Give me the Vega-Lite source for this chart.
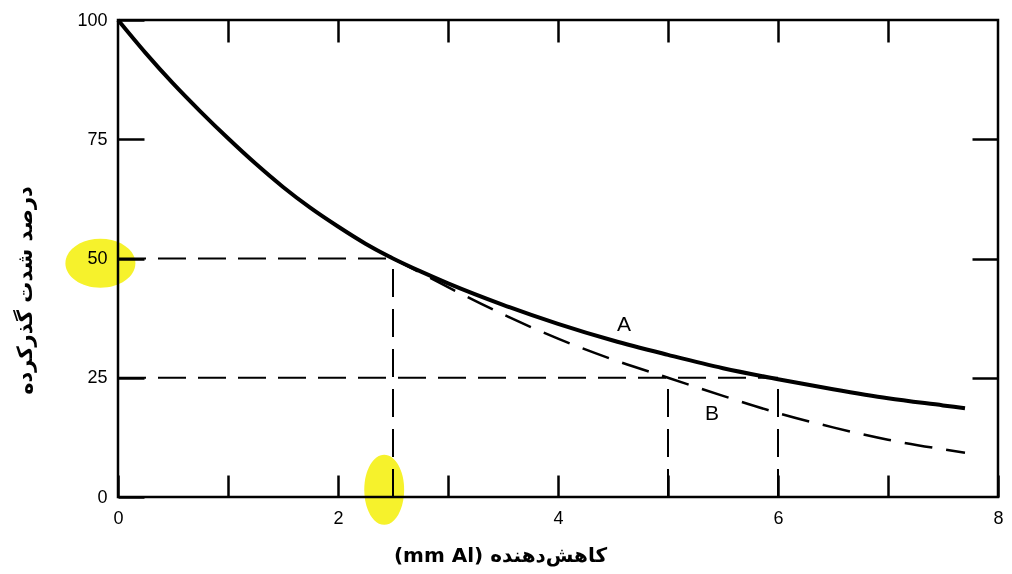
{
  "$schema": "https://vega.github.io/schema/vega-lite/v6.json",
  "width": 880,
  "height": 477,
  "autosize": {"type": "none"},
  "padding": {"left": 118, "top": 20, "right": 14, "bottom": 77},
  "background": "white",
  "config": {
    "view": {"stroke": "black", "strokeWidth": 2.5},
    "axis": {
      "labelFont": "Liberation Sans",
      "labelFontSize": 18,
      "labelColor": "black",
      "tickColor": "black",
      "tickWidth": 2.5,
      "domain": false,
      "grid": false,
      "titleColor": "black",
      "labelFlush": false,
      "zindex": 1
    }
  },
  "datasets": {
    "curveA": [
      {"x": 0, "y": 100}, {"x": 0.25, "y": 93.1}, {"x": 0.5, "y": 86.7}, {"x": 0.75, "y": 80.8},
      {"x": 1, "y": 75.2}, {"x": 1.25, "y": 69.9}, {"x": 1.5, "y": 65}, {"x": 1.75, "y": 60.6},
      {"x": 2, "y": 56.7}, {"x": 2.25, "y": 53.1}, {"x": 2.5, "y": 50}, {"x": 2.75, "y": 47.3},
      {"x": 3, "y": 44.8}, {"x": 3.5, "y": 40.3}, {"x": 4, "y": 36.3}, {"x": 4.5, "y": 32.8},
      {"x": 5, "y": 29.8}, {"x": 5.5, "y": 27}, {"x": 6, "y": 24.7}, {"x": 6.5, "y": 22.6},
      {"x": 7, "y": 20.7}, {"x": 7.5, "y": 19.2}, {"x": 7.7, "y": 18.6}
    ],
    "curveB": [
      {"x": 2.5, "y": 50}, {"x": 2.75, "y": 47}, {"x": 3, "y": 44}, {"x": 3.5, "y": 38.3},
      {"x": 4, "y": 33.2}, {"x": 4.5, "y": 28.8}, {"x": 5, "y": 25}, {"x": 5.5, "y": 21.2},
      {"x": 6, "y": 17.6}, {"x": 6.5, "y": 14.6}, {"x": 7, "y": 12}, {"x": 7.5, "y": 10},
      {"x": 7.7, "y": 9.3}
    ],
    "guides": [
      {"x": 0, "x2": 2.5, "y": 50, "y2": 50},
      {"x": 2.5, "x2": 2.5, "y": 0, "y2": 50},
      {"x": 0, "x2": 6, "y": 25, "y2": 25},
      {"x": 5, "x2": 5, "y": 0, "y2": 25},
      {"x": 6, "x2": 6, "y": 0, "y2": 25}
    ],
    "labels": [
      {"label": "A", "x": 4.6, "y": 36},
      {"label": "B", "x": 5.4, "y": 17.5}
    ],
    "highlightLabel": [{"x": -0.16, "y": 49}],
    "highlightTick": [{"x": 2.42, "y": 1.5}]
  },
  "layer": [
    {
      "data": {"name": "highlightLabel"},
      "mark": {"type": "point", "filled": true, "color": "#f6f22c", "opacity": 1, "blend": "multiply", "size": 4900, "shape": "M -1 0 A 1 0.7 0 1 0 1 0 A 1 0.7 0 1 0 -1 0 Z", "clip": false},
      "encoding": {
        "x": {"field": "x", "type": "quantitative", "scale": {"domain": [0, 8], "nice": false}, "axis": null},
        "y": {"field": "y", "type": "quantitative", "scale": {"domain": [0, 100], "nice": false}, "axis": null}
      }
    },
    {
      "data": {"name": "highlightTick"},
      "mark": {"type": "point", "filled": true, "color": "#f6f22c", "opacity": 1, "blend": "multiply", "size": 4900, "shape": "M 0 -1 A 0.57 1 0 1 0 0 1 A 0.57 1 0 1 0 0 -1 Z", "clip": false},
      "encoding": {
        "x": {"field": "x", "type": "quantitative", "axis": null},
        "y": {"field": "y", "type": "quantitative", "axis": null}
      }
    },
    {
      "data": {"name": "curveA"},
      "mark": {"type": "line", "color": "black", "strokeWidth": 4, "interpolate": "monotone"},
      "encoding": {
        "x": {
          "field": "x", "type": "quantitative",
          "axis": {
            "values": [0, 1, 2, 3, 4, 5, 6, 7, 8],
            "labelExpr": "datum.value % 2 === 0 ? datum.label : ''",
            "tickSize": -22,
            "labelPadding": 34,
            "title": "(mm Al) کاهش‌دهنده",
            "titleFont": "DejaVu Sans",
            "titleFontSize": 20,
            "titleFontWeight": "bold",
            "titleX": 382,
            "titleY": 58,
            "titleBaseline": "middle",
            "titleAlign": "center"
          }
        },
        "y": {
          "field": "y", "type": "quantitative",
          "axis": {
            "values": [0, 25, 50, 75, 100],
            "tickSize": -26,
            "labelPadding": 37,
            "title": "درصد شدت گذرکرده",
            "titleFont": "DejaVu Sans",
            "titleFontSize": 21,
            "titleFontWeight": "bold",
            "titleX": -93,
            "titleY": 270,
            "titleAngle": -90,
            "titleBaseline": "middle",
            "titleAlign": "center"
          }
        }
      }
    },
    {
      "data": {"name": "curveB"},
      "mark": {"type": "line", "color": "black", "strokeWidth": 2.5, "strokeDash": [28, 14], "interpolate": "monotone"},
      "encoding": {
        "x": {
          "field": "x", "type": "quantitative",
          "axis": {"orient": "top", "values": [1, 2, 3, 4, 5, 6, 7], "labels": false, "tickSize": -22, "title": null}
        },
        "y": {
          "field": "y", "type": "quantitative",
          "axis": {"orient": "right", "values": [25, 50, 75], "labels": false, "tickSize": -26, "title": null}
        }
      }
    },
    {
      "data": {"name": "guides"},
      "mark": {"type": "rule", "color": "black", "strokeWidth": 2, "strokeDash": [28, 12]},
      "encoding": {
        "x": {"field": "x", "type": "quantitative", "axis": null},
        "x2": {"field": "x2"},
        "y": {"field": "y", "type": "quantitative", "axis": null},
        "y2": {"field": "y2"}
      }
    },
    {
      "data": {"name": "labels"},
      "mark": {"type": "text", "font": "Liberation Sans", "fontSize": 21, "color": "black"},
      "encoding": {
        "x": {"field": "x", "type": "quantitative", "axis": null},
        "y": {"field": "y", "type": "quantitative", "axis": null},
        "text": {"field": "label"}
      }
    }
  ],
  "resolve": {"axis": {"x": "independent", "y": "independent"}}
}
